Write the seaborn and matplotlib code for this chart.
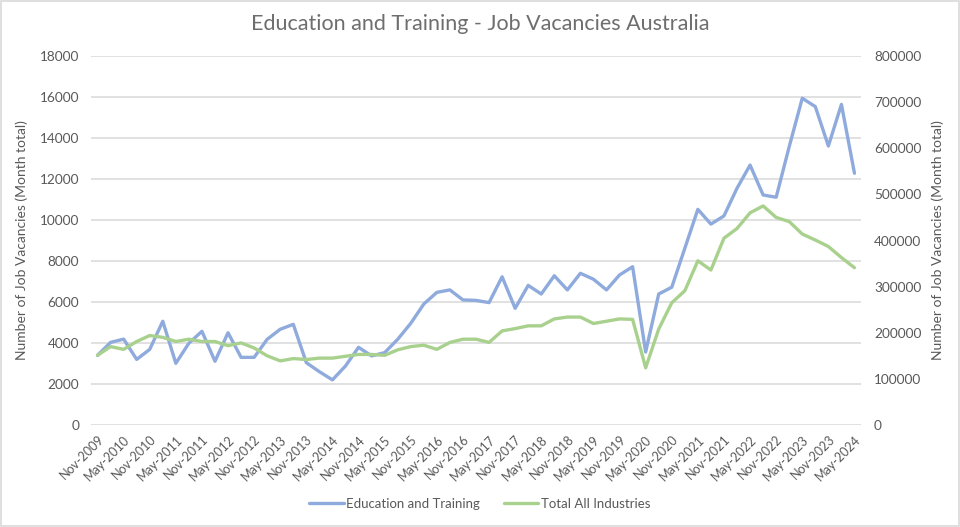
import matplotlib
matplotlib.use("Agg")
import matplotlib.pyplot as plt
import numpy as np
import pandas as pd
import seaborn as sns
from matplotlib.lines import Line2D
from matplotlib.patches import Rectangle

# Quarterly data, Nov-2009 .. May-2024
edu = [3400, 4030, 4190, 3200, 3690, 5060, 3010, 3990, 4570, 3110,
       4500, 3300, 3300, 4180, 4670, 4910, 3040, 2600, 2200, 2880,
       3790, 3370, 3530, 4180, 4960, 5900, 6470, 6590, 6100, 6080,
       5970, 7230, 5690, 6810, 6390, 7280, 6590, 7400, 7110, 6590,
       7320, 7720, 3560, 6390, 6720, 8620, 10520, 9800, 10200, 11550,
       12680, 11220, 11110, 13580, 15940, 15530, 13610, 15640, 12280]
total = [151000, 170000, 164000, 181000, 194000, 190000, 181000, 186000, 181000, 181000,
         172000, 178000, 167000, 150000, 139000, 144000, 142000, 145000, 145000, 149000,
         153000, 153000, 151000, 163000, 170000, 173000, 164000, 179000, 186000, 186000,
         179000, 204000, 209000, 215000, 215000, 230000, 234000, 234000, 220000, 225000,
         230000, 229000, 124000, 208000, 265000, 291000, 356000, 336000, 405000, 426000,
         460000, 475000, 450000, 441000, 414000, 401000, 387000, 363000, 341000]
tick_labels = ["Nov-2009", "May-2010", "Nov-2010", "May-2011", "Nov-2011", "May-2012",
               "Nov-2012", "May-2013", "Nov-2013", "May-2014", "Nov-2014", "May-2015",
               "Nov-2015", "May-2016", "Nov-2016", "May-2017", "Nov-2017", "May-2018",
               "Nov-2018", "May-2019", "Nov-2019", "May-2020", "Nov-2020", "May-2021",
               "Nov-2021", "May-2022", "Nov-2022", "May-2023", "Nov-2023", "May-2024"]
series_names = ["Education and Training", "Total All Industries"]

blue = "#8FAADC"
green = "#A9D18E"
gray_text = "#595959"
grid_c = "#D9D9D9"

sns.set_theme(style="white")
plt.rcParams['font.family'] = ['Lato', 'DejaVu Sans']

df = pd.DataFrame({"q": np.arange(len(edu)), series_names[0]: edu, series_names[1]: total})

fig = plt.figure(figsize=(9.6, 5.27), dpi=100)
ax = fig.add_axes([91/960, 1 - 425/527, 770/960, 369/527])
ax2 = ax.twinx()

sns.lineplot(data=df, x="q", y=series_names[0], ax=ax, color=blue, lw=2.4)
sns.lineplot(data=df, x="q", y=series_names[1], ax=ax2, color=green, lw=2.4)

ax.set_xlim(-0.5, len(edu) - 0.5)
ax.set_ylim(0, 18000)
ax2.set_ylim(0, 800000)
ax.set_yticks(np.arange(0, 18001, 2000))
ax2.set_yticks(np.arange(0, 800001, 100000))
ax.set_xticks(np.arange(0, len(edu), 2))
ax.set_xticklabels(tick_labels, rotation=45, ha="right", rotation_mode="anchor")

for a in (ax, ax2):
    for s in a.spines.values():
        s.set_visible(False)
    a.tick_params(axis="both", length=0, labelsize=9, labelcolor=gray_text)
ax.tick_params(axis="y", pad=8.6, labelsize=9.8)
ax2.tick_params(axis="y", pad=9.4, labelsize=9.8)
ax.tick_params(axis="x", pad=6)

ax.yaxis.grid(True, color=grid_c, lw=1.1)
ax.xaxis.grid(False)
ax2.grid(False)
ax.set_xlabel("")
ax2.set_xlabel("")

ax.set_ylabel("Number of Job Vacancies (Month total)", fontsize=10, color=gray_text)
ax2.set_ylabel("Number of Job Vacancies (Month total)", fontsize=10, color=gray_text,
               rotation=90)
ax.yaxis.set_label_coords(-0.082, 0.5)
ax2.yaxis.set_label_coords(1.091, 0.5)

fig.text(0.5, 1 - 24/527, "Education and Training - Job Vacancies Australia",
         ha="center", va="center", fontsize=15.5, fontweight="normal", color="#6E6E6E")

handles = [Line2D([0], [0], color=blue, lw=2.4), Line2D([0], [0], color=green, lw=2.4)]
leg = fig.legend(handles, series_names, loc="center", bbox_to_anchor=(0.5, 1 - 504/527),
                 ncol=2, frameon=False, fontsize=9.5, handlelength=2.6,
                 handletextpad=0.2, columnspacing=1.8)
for t in leg.get_texts():
    t.set_color(gray_text)

fig.patches.append(Rectangle((0.001, 0.002), 0.998, 0.996, transform=fig.transFigure,
                             fill=False, ec=grid_c, lw=1.2))

fig.savefig("out.png", dpi=100, facecolor="white")
